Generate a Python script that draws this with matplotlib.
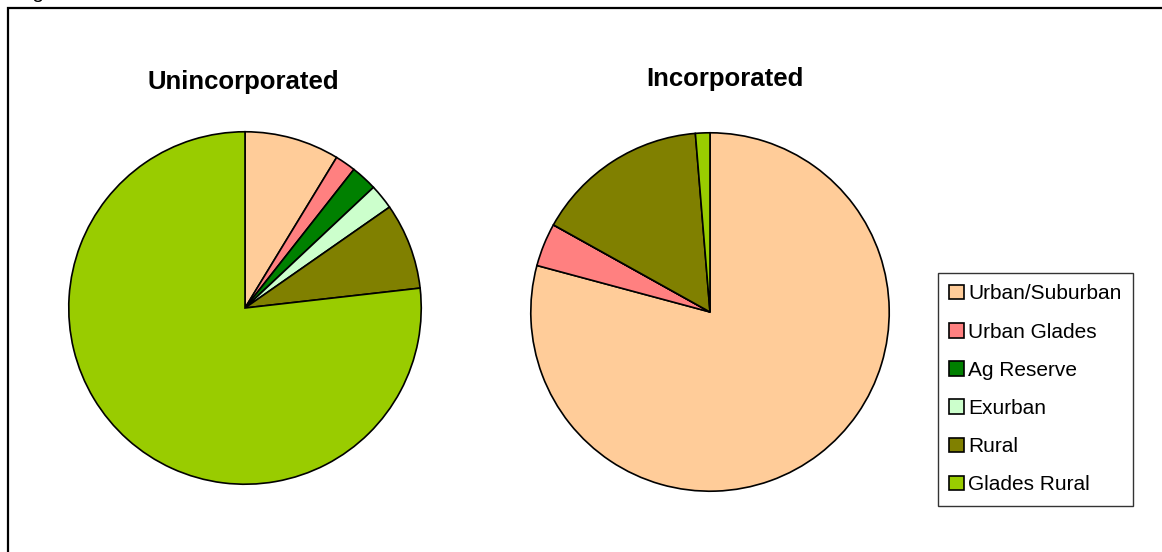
import matplotlib
matplotlib.use("Agg")
import matplotlib.pyplot as plt
from matplotlib.patches import Rectangle, Patch

plt.rcParams["font.family"] = ["Liberation Sans", "DejaVu Sans"]

categories = ["Urban/Suburban", "Urban Glades", "Ag Reserve", "Exurban", "Rural", "Glades Rural"]
colors = ["#FFCC99", "#FF8080", "#008000", "#CCFFCC", "#808000", "#99CC00"]
unincorporated = [8.7, 1.9, 2.4, 2.3, 7.9, 76.8]
incorporated = [79.1, 3.9, 0.0, 0.0, 15.6, 1.3]

W, H = 1162, 552
fig = plt.figure(figsize=(W / 100, H / 100), dpi=100)


def px_axes(cx, cy, r):
    # axes centred on (cx, cy) in image pixels (y from top), radius r px
    return fig.add_axes([(cx - r) / W, (H - cy - r) / H, 2 * r / W, 2 * r / H])


def draw_pie(ax, values):
    ax.pie(values, colors=colors, startangle=90, counterclock=False,
           wedgeprops=dict(edgecolor="black", linewidth=1.2))
    ax.set_xlim(-1.01, 1.01)
    ax.set_ylim(-1.01, 1.01)
    ax.set_aspect("equal")
    ax.axis("off")


ax1 = px_axes(245, 308, 178)
draw_pie(ax1, unincorporated)
ax2 = px_axes(710, 312, 181)
draw_pie(ax2, incorporated)

fig.text(243 / W, 1 - 89 / H, "Unincorporated", ha="center", va="baseline",
         fontsize=18.5, fontweight="bold")
fig.text(725 / W, 1 - 86 / H, "Incorporated", ha="center", va="baseline",
         fontsize=18.5, fontweight="bold")

# outer chart border (runs off the right and bottom edges)
fig.patches.append(Rectangle((7.5 / W, -0.1), 1.2, 1 - 8 / H + 0.1,
                             transform=fig.transFigure, fill=False,
                             edgecolor="black", linewidth=1.6))

# clipped caption above the chart (only the descender shows, as in the source)
fig.text(15 / W, 1 + 1.5 / H, "Figure", ha="left", va="baseline", fontsize=15)

handles = [Patch(facecolor=c, edgecolor="black", linewidth=1.2) for c in colors]
leg = fig.legend(handles, categories, loc="upper left",
                 bbox_to_anchor=(938 / W, 1 - 273 / H), fontsize=15,
                 frameon=True, fancybox=False, edgecolor="black",
                 handlelength=0.7, handleheight=0.7, handletextpad=0.2,
                 labelspacing=0.92, borderpad=0.55, borderaxespad=0)
leg.get_frame().set_linewidth(1.0)

fig.savefig("out.png", dpi=100)
